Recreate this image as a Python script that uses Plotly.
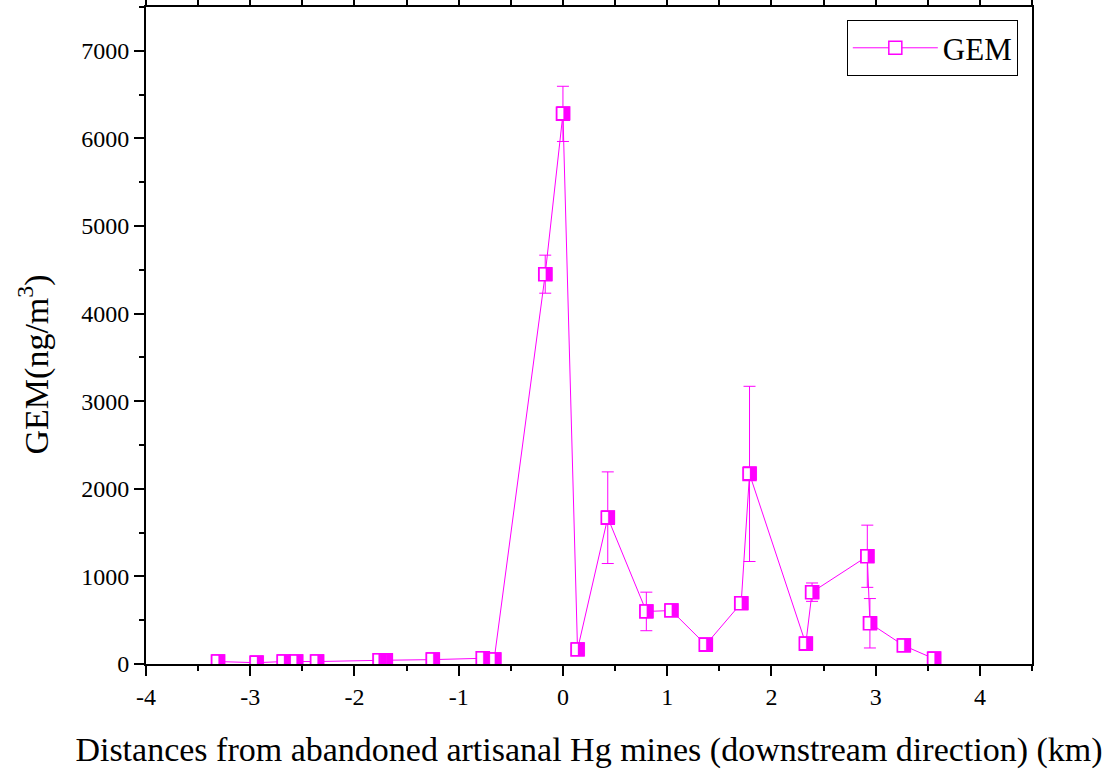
import plotly.graph_objects as go

# Distance from abandoned artisanal Hg mines (km, downstream direction)
distance_km = [-3.31, -2.94, -2.68, -2.56, -2.36, -1.76, -1.70, -1.25, -0.77, -0.66,
               -0.17, 0.00, 0.14, 0.43, 0.80, 1.04, 1.37, 1.71, 1.79, 2.33,
               2.39, 2.92, 2.945, 3.27, 3.56]
# GEM concentration (ng/m3)
gem = [28, 15, 28, 28, 28, 42, 42, 50, 65, 50,
       4450, 6280, 165, 1670, 600, 610, 220, 694, 2170, 230,
       820, 1230, 465, 210, 60]
# standard deviation (ng/m3)
gem_sd = [10, 10, 10, 10, 10, 15, 15, 15, 20, 15,
          217, 315, 40, 523, 220, 40, 40, 60, 1000, 40,
          105, 355, 282, 40, 20]

x_tick_vals = [-4, -3, -2, -1, 0, 1, 2, 3, 4]
x_tick_text = ["-4", "-3", "-2", "-1", "0", "1", "2", "3", "4"]
y_tick_vals = [0, 1000, 2000, 3000, 4000, 5000, 6000, 7000]

MAG = "#FF00FF"
FONT = "Liberation Serif"

fig = go.Figure()
fig.add_trace(go.Scatter(
    x=distance_km, y=gem, name="GEM", mode="lines+markers",
    line=dict(color=MAG, width=1),
    marker=dict(symbol="square", size=13, color="white",
                line=dict(color=MAG, width=1.5)),
    error_y=dict(type="data", array=gem_sd, visible=True,
                 color=MAG, thickness=1, width=6),
))
fig.add_trace(go.Scatter(
    x=distance_km, y=gem, mode="text", text=["\u25E8"] * len(gem),
    textposition="middle center",
    textfont=dict(family="DejaVu Sans", size=18, color=MAG),
    showlegend=False, hoverinfo="skip",
))

fig.update_layout(
    width=1107, height=775,
    margin=dict(l=146, r=75, t=7, b=111, autoexpand=False),
    plot_bgcolor="white", paper_bgcolor="white",
    font=dict(family=FONT, color="black", size=24),
    showlegend=True,
    legend=dict(x=0.984, y=0.98, xanchor="right", yanchor="top",
                bordercolor="black", borderwidth=1,
                font=dict(family=FONT, size=31, color="black"),
                itemwidth=85, bgcolor="white", tracegroupgap=0),
    xaxis=dict(
        range=[-4, 4.5], tickvals=x_tick_vals, ticktext=x_tick_text,
        automargin=False,
        ticks="outside", ticklen=10, tickwidth=2, tickcolor="black",
        showline=True, linewidth=2, linecolor="black", mirror="ticks",
        showgrid=False, zeroline=False,
        tickfont=dict(family=FONT, size=24),
        minor=dict(dtick=0.5, ticks="outside", ticklen=5, tickwidth=2, tickcolor="black"),
        title=dict(text="Distances from abandoned artisanal Hg mines (downstream direction) (km)",
                   font=dict(family=FONT, size=34), standoff=28),
    ),
    yaxis=dict(
        range=[0, 7500], tickvals=y_tick_vals,
        automargin=False,
        ticks="outside", ticklen=10, tickwidth=2, tickcolor="black",
        showline=True, linewidth=2, linecolor="black", mirror=True,
        showgrid=False, zeroline=False,
        tickfont=dict(family=FONT, size=24),
        minor=dict(dtick=500, ticks="outside", ticklen=5, tickwidth=2, tickcolor="black"),
    ),
    annotations=[dict(
        text="GEM(ng/m<sup>3</sup>)", textangle=-90, showarrow=False,
        xref="paper", yref="paper", x=-0.127, y=0.4566,
        xanchor="center", yanchor="middle",
        font=dict(family=FONT, size=34, color="black"),
    )],
)

fig.write_html("out.html")
